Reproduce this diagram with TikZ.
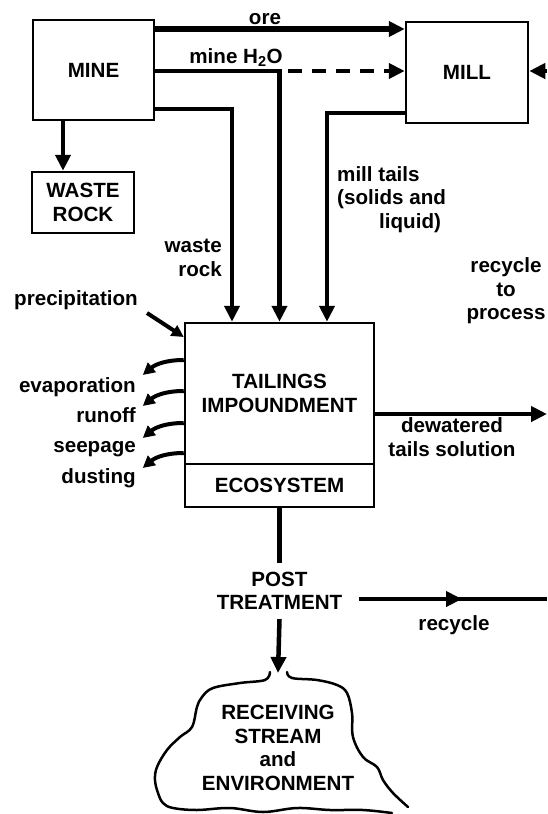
\documentclass[tikz,border=0pt]{standalone}
\usepackage{fontspec}
\setmainfont{Liberation Sans}
\usetikzlibrary{arrows.meta}

\begin{document}
\begin{tikzpicture}[x=1pt, y=-1pt,
  every node/.style={font=\fontsize{20.6}{23.5}\selectfont\bfseries, inner sep=0pt},
  box/.style={draw, line width=2.5pt, align=center},
  pipe/.style={line width=4.5pt},
  flow/.style={pipe, -{Triangle[length=16pt, width=15pt]}},
  small flow/.style={line width=4pt, -{Triangle[length=12pt, width=12pt]}},
  cloudline/.style={line width=2.5pt, line cap=round}]
\useasboundingbox (0,0) rectangle (547,814);

% boxes
\node [box, minimum width=121pt, minimum height=100pt] (mine) at (93.5, 70) {MINE};
\node [box, minimum width=122pt, minimum height=101pt] (mill) at (467, 72.5) {MILL};
\node [box, minimum width=102pt, minimum height=61pt] (waste) at (83, 202.5) {WASTE\\ROCK};
\node [box, minimum width=189pt, minimum height=141pt] (tail) at (279.5, 393.5) {TAILINGS\\IMPOUNDMENT};
\node [box, minimum width=189pt, minimum height=43pt] (eco) at (279.5, 485.5) {ECOSYSTEM};
\node [align=center, inner xsep=17pt, inner ysep=9pt] (post) at (279.5, 591) {POST\\TREATMENT};
\node [align=center] (env) at (278, 748) {RECEIVING\\STREAM\\and\\ENVIRONMENT};

\coordinate (h2o) at (288, 71);
\coordinate (recin) at (547, 71);
\coordinate (precip) at (147, 313);
\coordinate (dewout) at (547, 414);
\coordinate (recmid) at (462, 599);
\coordinate (recout) at (547, 599);
\coordinate (envtop) at (278, 673);

% flows from mine and mill
\draw [flow, line width=6.5pt] (mine.east |- 0,29) -- (mill.west |- 0,29);
\draw [flow] (mine.east |- 0,71) -| (tail.north);
\draw [flow, dash pattern=on 14pt off 10pt] (h2o) -- (mill.west |- h2o);
\draw [flow] (mine.east |- 0,109) -| ([xshift=-47.5pt]tail.north);
\draw [flow] (mill.west |- 0,113) -| ([xshift=47.5pt]tail.north);
\draw [flow] ([xshift=-30.5pt]mine.south) -- ([xshift=-20pt]waste.north);
\draw [flow] (recin) -- (mill.east |- recin);

% impoundment in and out
\draw [small flow] (precip) -- (tail.west |- 0,337);
\foreach \y in {360, 391, 423, 453}
  \draw [small flow] (tail.west |- 0,\y) to[out=180, in=40] ++(-41, 15);
\draw [flow] (tail.east |- dewout) -- (dewout);

% treatment and discharge
\draw [pipe] (eco.south) -- (post.north);
\draw [flow] (post.south) -- (envtop);
\draw [pipe] (post.east |- recmid) -- (recout);
\draw [flow] (post.east |- recmid) -- (recmid);

% receiving environment
\draw [cloudline] plot[smooth, tension=0.6] coordinates {(270,672) (265,680) (240,683) (213,688) (202,697) (197,707) (192,727) (180,737) (167,750) (157,767) (155,780) (158,793) (163,803) (173,808) (197,810) (230,808) (263,812) (297,808) (330,810) (363,810) (392,813)};
\draw [cloudline] plot[smooth, tension=0.6] coordinates {(287,672) (292,678) (317,680) (337,685) (347,693) (352,713) (353,737) (363,757) (377,767) (383,780) (393,793) (408,807)};

% labels
\node (orelab) at (265, 19) {ore};
\node [anchor=base] (h2olab) at (236, 63) {mine H\textsubscript{2}O};
\node [anchor=east, align=right] (wrlab) at (222, 258) {waste\\rock};
\node [anchor=north west, align=left] (mtlab) at (337, 166) {mill tails\\(solids and\\\hspace*{42pt}liquid)};
\node [align=center] (rclab) at (506, 291) {recycle\\to\\process};
\node [anchor=base west] (prlab) at (14, 305) {precipitation};
\node [anchor=base east] (evlab) at (136, 392) {evaporation};
\node [anchor=base east] (rolab) at (136, 422) {runoff};
\node [anchor=base east] (splab) at (136, 452) {seepage};
\node [anchor=base east] (dulab) at (136, 483) {dusting};
\node [align=center] (dwlab) at (452, 437) {dewatered\\tails solution};
\node [anchor=base] (rylab) at (454, 630) {recycle};
\end{tikzpicture}
\end{document}
